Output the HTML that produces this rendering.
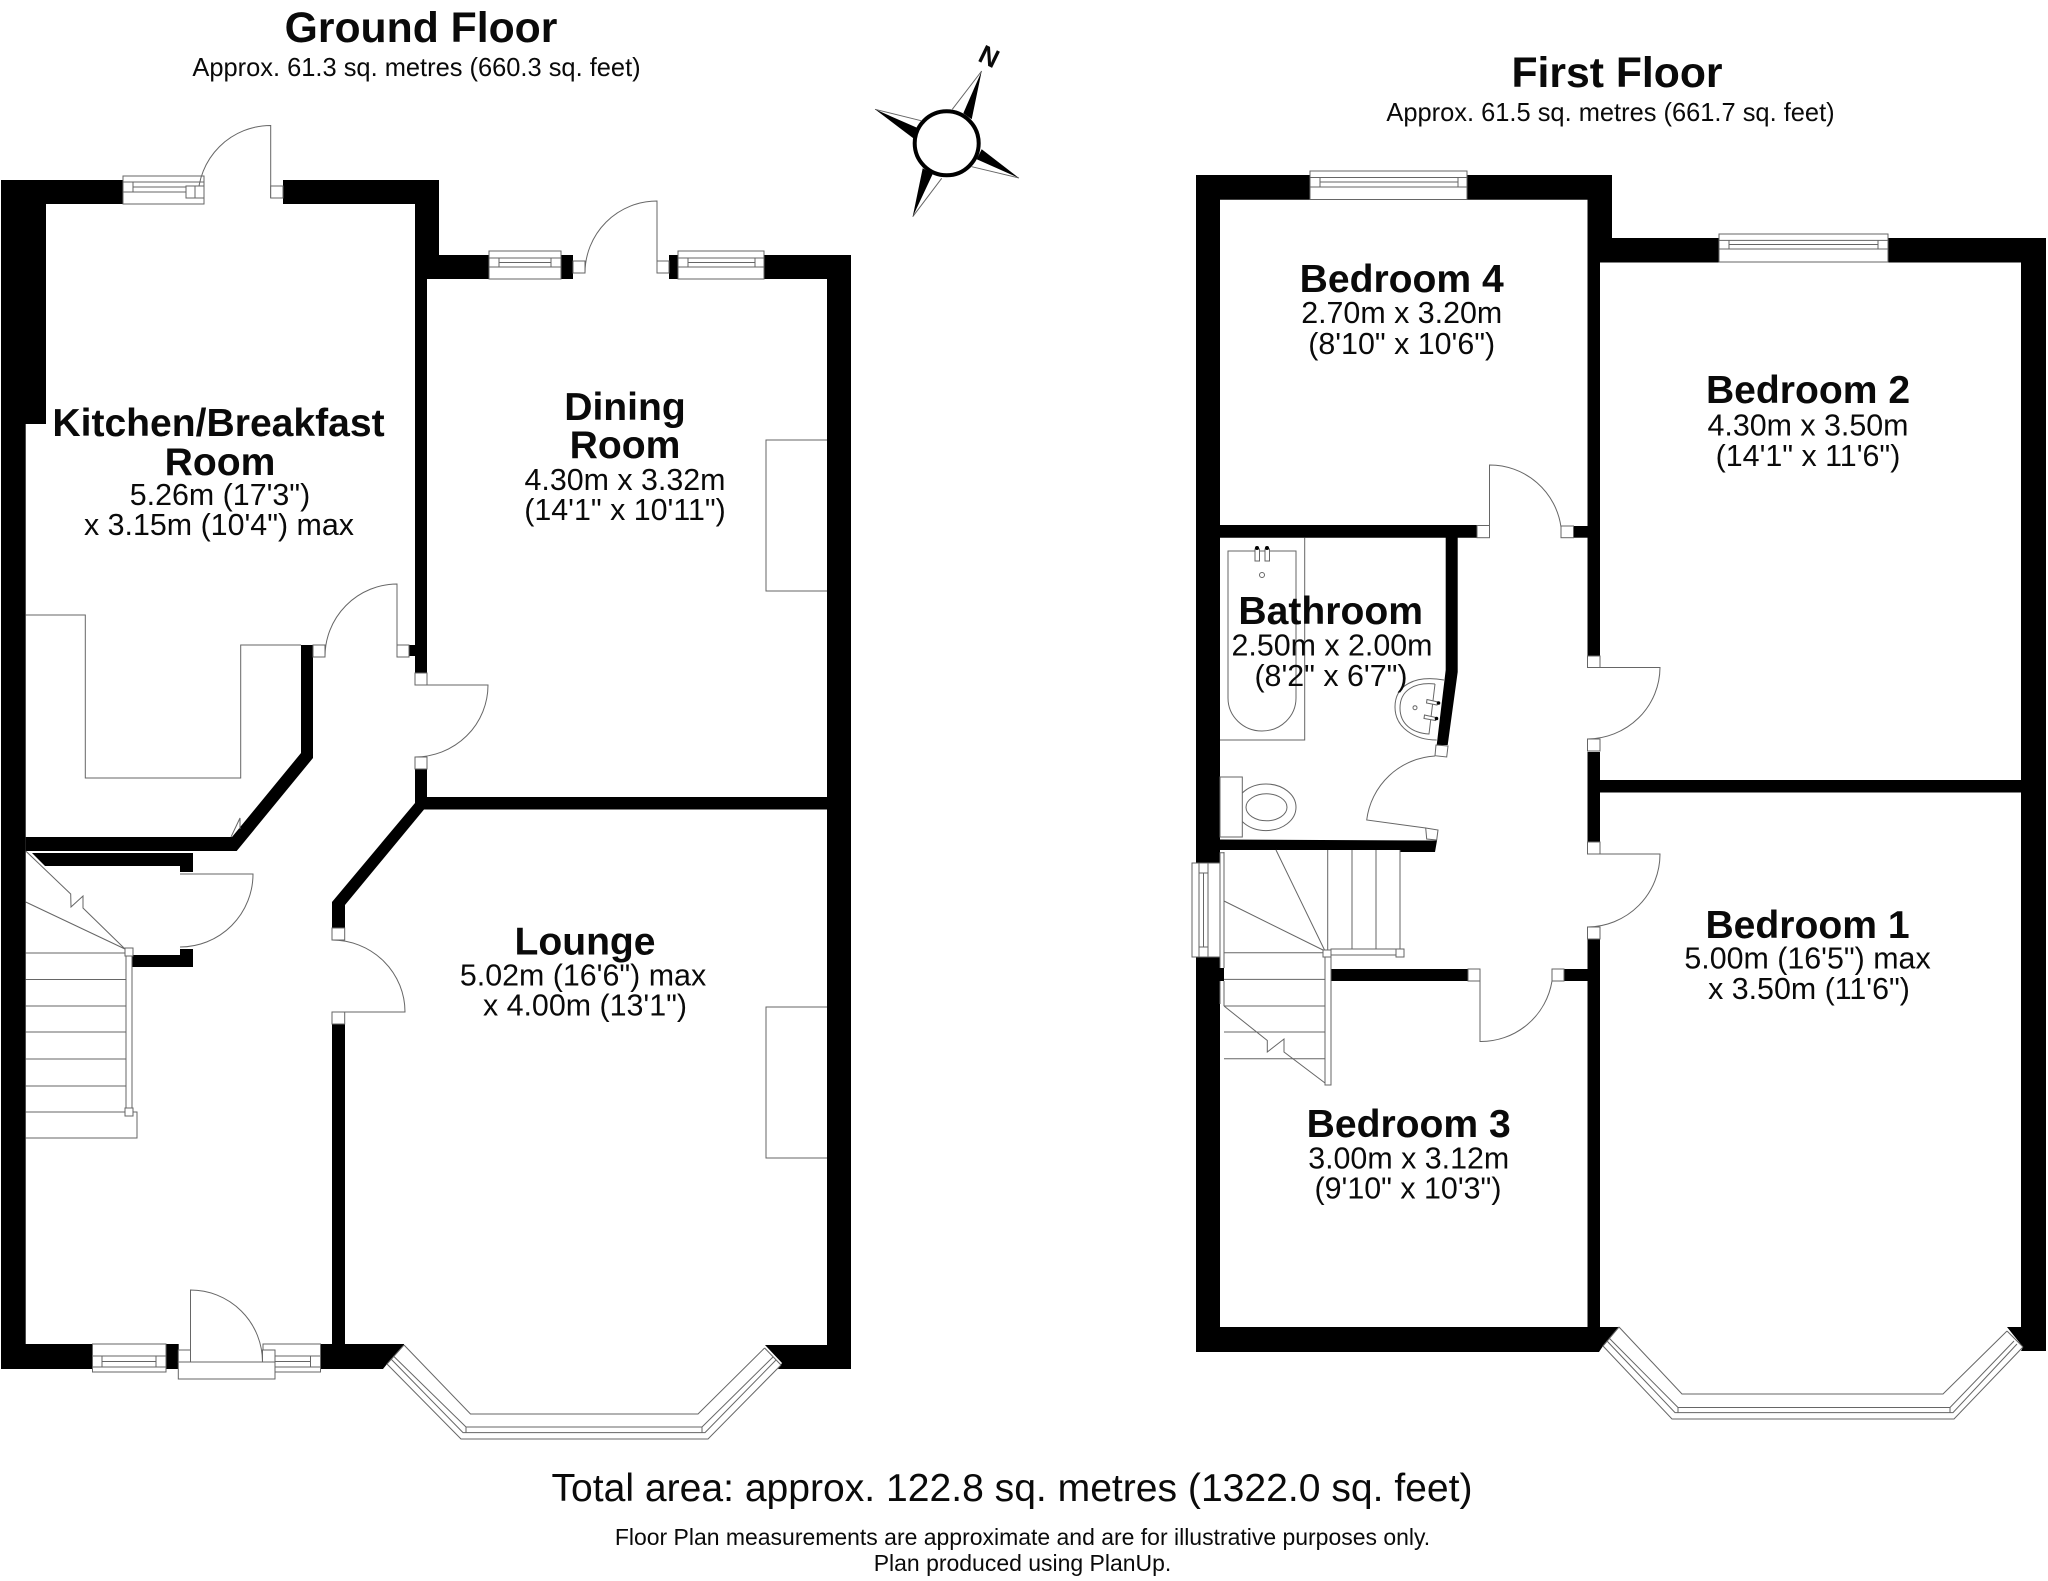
<!DOCTYPE html>
<html lang="en"><head><meta charset="utf-8"><title>Floor Plan</title>
<style>
html,body{margin:0;padding:0;background:#fff;width:2048px;height:1581px;overflow:hidden}
svg{display:block}
text{font-family:"Liberation Sans",sans-serif;fill:#0a0a0a;text-anchor:middle}
.b{font-weight:700;font-size:39.1px}
.r{font-size:30.4px}
.w{fill:#000;stroke:none}
.l{fill:none;stroke:#666;stroke-width:1}
.f{fill:#fff;stroke:#666;stroke-width:1}
</style></head><body>
<svg width="2048" height="1581" viewBox="0 0 2048 1581" xmlns="http://www.w3.org/2000/svg">
<rect width="2048" height="1581" fill="#fff"/>

<!-- GROUND FLOOR WALLS -->
<polygon class="w" points="1,180 123,180 123,204 46,204 46,424 25.7,424 25.7,1344 92.5,1344 92.5,1369 1,1369"/>
<polygon class="w" points="283,180 439,180 439,255 489,255 489,279 427,279 427,673 415,673 415,204 283,204"/>
<polygon class="w" points="764,255 851,255 851,1369 778,1369 782,1363 765,1345 827,1345 827,279 764,279"/>
<polygon class="w" points="415,769 427,769 427,797 827,797 827,809.5 424,809.5 345,905 345,928 332,928 332,902 415,803"/>
<polygon class="w" points="332,1024 345,1024 345,1344 404,1344 404,1345 387,1364 383,1369 320.5,1369 320.5,1344 332,1344"/>
<polygon class="w" points="301,645 313,645 313,758 236.7,851 25.7,851 25.7,837 232,837 301,753"/>
<polygon class="w" points="32,853 193,853 193,872 180,872 180,866 45,866"/>
<polygon class="w" points="132,955 180,955 180,949 193,949 193,967 132,967"/>
<rect class="w" x="561" y="255" width="12" height="24"/>
<rect class="w" x="669" y="255" width="9" height="24"/>
<rect class="w" x="166" y="1344" width="12.7" height="25"/>
<rect class="w" x="409" y="645" width="6" height="11"/>

<!-- Ground windows -->
<rect class="f" x="123" y="176" width="81" height="28"/>
<path class="l" d="M123 182H204M123 192H186M133 182V192M133 187H186"/>
<rect class="f" x="186" y="186" width="10" height="12"/>
<rect class="f" x="489" y="251" width="72" height="28"/>
<path class="l" d="M489 258H561M489 267H561M499 258V267M551 258V267M499 262.5H551"/>
<rect class="f" x="678" y="251" width="86" height="28"/>
<path class="l" d="M678 258H764M678 267H764M688 258V267M755 258V267M688 262.5H755"/>
<rect class="f" x="92.5" y="1344" width="73.5" height="28"/>
<path class="l" d="M92.5 1356H166M92.5 1367H166M102 1356V1367M156 1356V1367M102 1361.5H156"/>
<rect class="f" x="263" y="1344" width="57.5" height="28"/>
<path class="l" d="M263 1356H320.5M263 1367H320.5M275 1356V1367M310.5 1356V1367M275 1361.5H310.5"/>

<!-- Ground doors -->
<path class="l" d="M270.7 198V125.5A72.7 72.7 0 0 0 198 198"/>
<rect class="f" x="270.7" y="186" width="12.3" height="12"/>
<rect class="f" x="195" y="186" width="9" height="12"/>
<path class="l" d="M657 273V201A72 72 0 0 0 585 273"/>
<rect class="f" x="573" y="261" width="12" height="12"/>
<rect class="f" x="657" y="261" width="12" height="12"/>
<path class="l" d="M397 657V584A72.5 72.5 0 0 0 325 657"/>
<rect class="f" x="313" y="645" width="12" height="12"/>
<rect class="f" x="397" y="645" width="12" height="12"/>
<path class="l" d="M415 685H488A73 72 0 0 1 415 757"/>
<rect class="f" x="415" y="673" width="12" height="12"/>
<rect class="f" x="415" y="757" width="12" height="12"/>
<path class="l" d="M332 1012H405A73 72 0 0 0 332 940"/>
<rect class="f" x="332" y="928" width="12.7" height="12"/>
<rect class="f" x="332" y="1012" width="12.7" height="12"/>
<path class="l" d="M180 874H253A73 73 0 0 1 180 947"/>
<path class="l" d="M190.5 1362V1290A72 72 0 0 1 262.5 1362"/>
<rect class="f" x="178.3" y="1350" width="12.2" height="12"/>
<rect class="f" x="262.5" y="1350" width="12.5" height="12"/>
<rect class="f" x="178.3" y="1362" width="96.7" height="17"/>

<!-- Kitchen counters / chimney -->
<path class="l" d="M25.7 615H85.3V778H240.7V645H301"/>
<path class="l" d="M231 837L240 818V829"/>
<path class="l" d="M827 440H766V591H827"/>
<path class="l" d="M827 1007H766V1158H827"/>

<!-- Ground stairs -->
<path class="l" d="M25.7 851L70.7 894L71 907L83 896L83 908L125 949M25.7 902L125 949"/>
<path class="l" d="M25.7 953H126M25.7 979.5H126M25.7 1006H126M25.7 1032H126M25.7 1059H126M25.7 1086H126M25.7 1112H137V1138H25.7"/>
<rect class="f" x="126" y="954" width="6" height="156"/>
<rect class="f" x="125" y="948" width="8" height="8"/>
<rect class="f" x="125" y="1108" width="8" height="8"/>

<!-- Ground bay -->
<path class="l" d="M404 1345L470.5 1414H698L764.6 1348"/>
<path class="l" d="M387 1364L461 1439H708L781 1365"/>
<path class="l" d="M404 1345L387 1364M764.6 1348L781 1365"/>
<path class="l" d="M393.8 1356.4L466 1427H702L773 1357M391 1359L463 1432.6H705L776 1360M466 1427V1432.6M702 1427V1432.6"/>

<!-- FIRST FLOOR WALLS -->
<polygon class="w" points="1196,175 1310,175 1310,199.7 1220,199.7 1220,863 1196,863"/>
<polygon class="w" points="1196,957 1220,957 1220,968 1224,968 1224,981 1220,981 1220,1327 1587.5,1327 1587.5,939 1600,939 1600,1327 1619,1327 1603,1346 1599,1352 1196,1352"/>
<polygon class="w" points="1467,175 1612,175 1612,238 1719,238 1719,262.5 1600,262.5 1600,656 1587.5,656 1587.5,199.7 1467,199.7"/>
<polygon class="w" points="1888,238 2046,238 2046,1351 2021,1351 2023,1347 2007,1327 2021,1327 2021,262.5 1888,262.5"/>
<polygon class="w" points="1587.5,752 1600,752 1600,780 2021,780 2021,792.5 1600,792.5 1600,842 1587.5,842"/>
<polygon class="w" points="1220,525 1477,525 1477,537.7 1457.7,537.7 1457.7,672 1447.7,745 1436.7,745 1445.7,670 1445.7,537.7 1220,537.7"/>
<rect class="w" x="1573.5" y="526" width="14" height="11.7"/>
<polygon class="w" points="1220,839.5 1437,840.5 1435,852 1400,852 1400,850 1220,850"/>
<rect class="w" x="1331" y="969" width="137" height="12"/>
<rect class="w" x="1564" y="969" width="23.5" height="12"/>

<!-- First windows -->
<rect class="f" x="1310" y="171" width="157" height="28.5"/>
<path class="l" d="M1310 177.5H1467M1310 187H1467M1320 177.5V187M1458 177.5V187M1320 182H1458"/>
<rect class="f" x="1719" y="234" width="169" height="28"/>
<path class="l" d="M1719 240.4H1888M1719 249H1888M1729 240.4V249M1878 240.4V249M1729 244.5H1878"/>
<rect class="f" x="1192" y="863" width="28" height="94"/>
<path class="l" d="M1199 863V957M1208 863V957M1199 873H1208M1199 947H1208M1203.5 873V947"/>

<!-- First doors -->
<path class="l" d="M1489.5 537V465A72 72 0 0 1 1561 527"/>
<rect class="f" x="1477" y="525.5" width="12.5" height="12.2"/>
<rect class="f" x="1561" y="526" width="12.5" height="11.7"/>
<path class="l" d="M1587.5 667.5H1660A73 72 0 0 1 1587.5 739"/>
<rect class="f" x="1587.5" y="656" width="12.5" height="11.5"/>
<rect class="f" x="1587.5" y="739" width="12.5" height="12"/>
<path class="l" d="M1587.5 854H1660A73 73 0 0 1 1587.5 927"/>
<rect class="f" x="1587.5" y="842" width="12.5" height="12"/>
<rect class="f" x="1587.5" y="927" width="12.5" height="12"/>
<path class="l" d="M1480 969V1041.5A72 72 0 0 0 1552 981"/>
<rect class="f" x="1468" y="969" width="12" height="12"/>
<rect class="f" x="1552" y="969" width="12" height="12"/>
<path class="l" d="M1425.7 828L1366.7 820A73 73 0 0 1 1435 756"/>
<polygon class="f" points="1436,745 1448,746 1446.7,757 1435,755.7"/>
<polygon class="f" points="1425.7,828 1438,830 1436.7,840 1426.7,839"/>

<!-- Bath fixtures -->
<path class="l" d="M1304.7 537.7V740H1220"/>
<path class="l" d="M1228 551H1296V698A34 33 0 0 1 1228 698Z"/>
<rect class="f" x="1255" y="549" width="4.5" height="12"/>
<rect class="f" x="1265" y="549" width="4.5" height="12"/>
<circle class="w" cx="1257" cy="548" r="2"/>
<circle class="w" cx="1267" cy="548" r="2"/>
<circle class="l" cx="1262" cy="575" r="2.5"/>
<path class="l" d="M1444 680C1415 675 1395 685 1395 707C1395 728 1415 740 1436.7 740"/>
<path class="l" d="M1435 684C1415 682 1400 690 1400 708C1400 724 1412 733 1429 734L1435 684"/>
<polygon class="f" points="1427,699.5 1438,702 1437,705 1426.5,703"/>
<polygon class="f" points="1424.5,715 1436,717.5 1435.5,720.5 1424,718.5"/>
<circle class="w" cx="1438.5" cy="703" r="1.8"/>
<circle class="w" cx="1436.5" cy="718.5" r="1.8"/>
<circle class="l" cx="1415" cy="707.7" r="2"/>
<ellipse class="l" cx="1266" cy="807.3" rx="30" ry="23.3"/>
<ellipse class="l" cx="1266.5" cy="807.3" rx="20.5" ry="13.5"/>
<rect class="f" x="1220" y="777" width="22.3" height="60"/>

<!-- First stairs -->
<path class="l" d="M1276 850L1325 951M1224 901L1325 951"/>
<path class="l" d="M1327.7 850V951M1352 850V951M1376 850V951M1400 850V951"/>
<path class="l" d="M1224 852.8H1220V968M1224 852V968M1224 981V1006M1220 981V1004"/>
<path class="l" d="M1224 952.8H1325M1224 979.4H1325M1224 1006H1325M1224 1032H1325M1224 1058.7H1325"/>
<path class="l" d="M1224 1006L1267.3 1040.5V1052L1284 1039V1052L1325 1083"/>
<rect class="f" x="1331" y="949" width="67" height="6"/>
<rect class="f" x="1396" y="949" width="8" height="8"/>
<rect class="f" x="1325" y="957" width="6" height="128"/>
<rect class="f" x="1323" y="950" width="8" height="7"/>

<!-- First bay -->
<path class="l" d="M1619 1327L1682 1394H1943L2007 1331"/>
<path class="l" d="M1603 1346L1672 1419H1954L2023 1347"/>
<path class="l" d="M1619 1327L1603 1346M2007 1331L2023 1347"/>
<path class="l" d="M1609.4 1338.4L1678 1407.5H1950L2014 1341M1607 1341L1675 1412.6H1953L2017 1344M1678 1407.5V1412.6M1950 1407.5V1412.6"/>

<!-- Compass -->
<path class="l" d="M981.7 71L952.3 109.3M1019 178L971.7 166.7M912.7 216.7L941.7 178.3M875 109.3L921 120.7"/>
<polygon class="w" points="981.7,71 963.3,113.3 971.7,119.3"/>
<polygon class="w" points="1019,178 981.7,149.3 976.7,159.3"/>
<polygon class="w" points="912.7,216.7 922.7,168.3 932.7,174"/>
<polygon class="w" points="875,109.3 918.3,128.3 913.3,138.3"/>
<circle cx="946.7" cy="143.3" r="32" fill="#fff" stroke="#000" stroke-width="4"/>
<text transform="translate(989.3,56) rotate(26)" y="9.5" style="font-weight:700;font-size:26px">N</text>

<!-- Titles -->
<text x="421" y="42" style="font-weight:700;font-size:42.7px">Ground Floor</text>
<text x="416.5" y="76" style="font-size:25.45px">Approx. 61.3 sq. metres (660.3 sq. feet)</text>
<text x="1617" y="87" style="font-weight:700;font-size:42.7px">First Floor</text>
<text x="1610.5" y="121" style="font-size:25.45px">Approx. 61.5 sq. metres (661.7 sq. feet)</text>

<!-- Room labels -->
<text class="b" x="218.5" y="436">Kitchen/Breakfast</text>
<text class="b" x="220" y="475">Room</text>
<text class="r" x="220" y="505">5.26m (17'3")</text>
<text class="r" x="219" y="535">x 3.15m (10'4") max</text>

<text class="b" x="625" y="420">Dining</text>
<text class="b" x="625" y="458">Room</text>
<text class="r" x="625" y="490">4.30m x 3.32m</text>
<text class="r" x="625" y="520">(14'1" x 10'11")</text>

<text class="b" x="585" y="954.6">Lounge</text>
<text class="r" x="583" y="985.5">5.02m (16'6") max</text>
<text class="r" x="585" y="1015.5">x 4.00m (13'1")</text>

<text class="b" x="1401.7" y="292">Bedroom 4</text>
<text class="r" x="1401.7" y="323">2.70m x 3.20m</text>
<text class="r" x="1401.7" y="354">(8'10" x 10'6")</text>

<text class="b" x="1330.7" y="624">Bathroom</text>
<text class="r" x="1332" y="655.5">2.50m x 2.00m</text>
<text class="r" x="1331" y="686">(8'2" x 6'7")</text>

<text class="b" x="1408.7" y="1137">Bedroom 3</text>
<text class="r" x="1408.7" y="1168.5">3.00m x 3.12m</text>
<text class="r" x="1408" y="1198.5">(9'10" x 10'3")</text>

<text class="b" x="1808" y="403">Bedroom 2</text>
<text class="r" x="1808" y="435.5">4.30m x 3.50m</text>
<text class="r" x="1808" y="466">(14'1" x 11'6")</text>

<text class="b" x="1807.5" y="937.8">Bedroom 1</text>
<text class="r" x="1807.5" y="968.5">5.00m (16'5") max</text>
<text class="r" x="1809" y="998.8">x 3.50m (11'6")</text>

<!-- Footer -->
<text x="1012" y="1501" style="font-size:39.1px">Total area: approx. 122.8 sq. metres (1322.0 sq. feet)</text>
<text x="1022.5" y="1545" style="font-size:22.97px">Floor Plan measurements are approximate and are for illustrative purposes only.</text>
<text x="1022.5" y="1571" style="font-size:22.97px">Plan produced using PlanUp.</text>
</svg>
</body></html>
